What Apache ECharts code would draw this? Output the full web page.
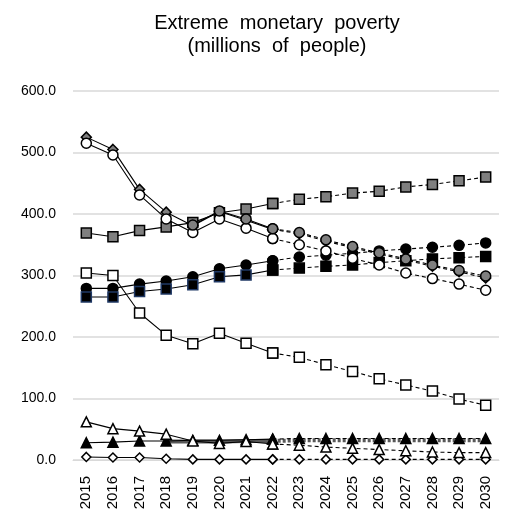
<!DOCTYPE html>
<html>
<head>
<meta charset="utf-8">
<script src="https://cdn.jsdelivr.net/npm/echarts@6/dist/echarts.min.js"></script>
<style>html,body{margin:0;padding:0;background:#fff}#c{width:522px;height:519px}</style>
</head>
<body>
<div id="c"></div>
<script>
const years = ['2015','2016','2017','2018','2019','2020','2021','2022','2023','2024','2025','2026','2027','2028','2029','2030'];
const yTicks = [0,100,200,300,400,500,600];
const graySquare    = [369,363,373,379,386,402,408,417,424,428,434,437,444,448,454,460];
const grayDiamond   = [525,505,440,403,381,404,390,375,368,356,345,335,325,315,306,296];
const grayCircle    = [null,null,null,null,382,405,392,376,370,358,347,337,327,317,308,299];
const whiteCircle   = [515,496,431,392,370,392,377,360,350,340,328,317,304,295,286,276];
const blackCircle   = [279,279,286,291,298,311,317,324,330,333,336,340,343,346,349,353];
const blackSquare   = [265,265,274,278,285,298,301,309,312,315,317,321,324,327,329,331];
const whiteSquare   = [304,300,239,203,189,206,190,174,167,155,144,132,122,112,99,89];
const whiteTriangle = [62,51,47,42,31,27,30,26,24,21,19,17,15,13,12,12];
const blackTriangle = [28,29,31,31,32,32,33,34,35,35,35,35,35,35,35,35];
const grayBand      = [null,null,null,30,30,30,31,31,32,32,32,32,32,32,32,32];
const whiteDiamond  = [5,4,4,2,1,1,1,1,1,1,1,1,1,1,1,1];

const LAST_HIST = 7; // index of 2022
function hist(arr){ return arr.map((v,i)=> i<=LAST_HIST ? v : null); }
function proj(arr){ return arr.map((v,i)=> i>=LAST_HIST ? v : null); }

function pair(arr, symbol, fill, size, opts){
  opts = opts || {};
  const base = {
    type:'line', symbol: symbol, symbolSize: size, showAllSymbol:true,
    connectNulls:false, animation:false,
    itemStyle:{color: fill, borderColor: '#000', borderWidth: 1.5, opacity:1},
    emphasis:{disabled:true}
  };
  const h = Object.assign({}, base, {
    data: hist(arr).map((v,i)=> (opts.histBorder && v!=null && i<LAST_HIST) ? {value:v, itemStyle:{borderColor:opts.histBorder}} : v),
    lineStyle:{color: opts.lineColor||'#000', width: opts.lineWidth||1.1, type:'solid'},
    z: opts.z||2
  });
  const p = Object.assign({}, base, {
    data: proj(arr),
    lineStyle:{color: opts.lineColor||'#000', width: opts.lineWidth||1.1, type: opts.dash||[4,3]},
    z: (opts.z||2)+0.5
  });
  if (symbol==='none'){ h.symbol='none'; p.symbol='none'; }
  return [h,p];
}

const series = [].concat(
  pair(grayBand,'none','#595959',0,{lineColor:'#595959', lineWidth:4, dash:[3,2], z:1}),
  pair(whiteDiamond,'diamond','#fff',9),
  pair(blackTriangle,'triangle','#000',10),
  pair(whiteTriangle,'triangle','#fff',10),
  pair(whiteSquare,'rect','#fff',10),
  pair(blackCircle,'circle','#000',10),
  pair(blackSquare,'rect','#000',10,{histBorder:'#1f3864'}),
  pair(graySquare,'rect','#7f7f7f',10),
  pair(grayDiamond,'diamond','#7f7f7f',10),
  pair(whiteCircle,'circle','#fff',10),
  pair(grayCircle,'circle','#7f7f7f',10)
);

const chart = echarts.init(document.getElementById('c'), null, {renderer:'canvas'});
chart.setOption({
  backgroundColor:'#fff',
  animation:false,
  title:{
    text:'Extreme  monetary  poverty\n(millions  of  people)',
    left:272, top:7, textAlign:'center',
    textStyle:{fontFamily:'Liberation Sans, Arial, sans-serif', fontSize:20, fontWeight:'normal', color:'#000', lineHeight:23}
  },
  grid:{left:73, right:23, top:91, bottom:59, containLabel:false},
  xAxis:{
    type:'category', data:years, boundaryGap:true,
    axisLine:{show:true, lineStyle:{color:'#d9d9d9', width:1}},
    axisTick:{show:false},
    axisLabel:{rotate:90, margin:16, color:'#000', fontSize:15, fontFamily:'Liberation Sans, Arial, sans-serif', interval:0},
    splitLine:{show:false}
  },
  yAxis:{
    type:'value', min:yTicks[0], max:yTicks[yTicks.length-1], interval:100,
    axisLine:{show:false}, axisTick:{show:false},
    axisLabel:{margin:17, color:'#000', fontSize:14, fontFamily:'Liberation Sans, Arial, sans-serif', formatter:v=>v.toFixed(1)},
    splitLine:{show:true, lineStyle:{color:'#d9d9d9', width:1.5}}
  },
  series: series
});
</script>
</body>
</html>
